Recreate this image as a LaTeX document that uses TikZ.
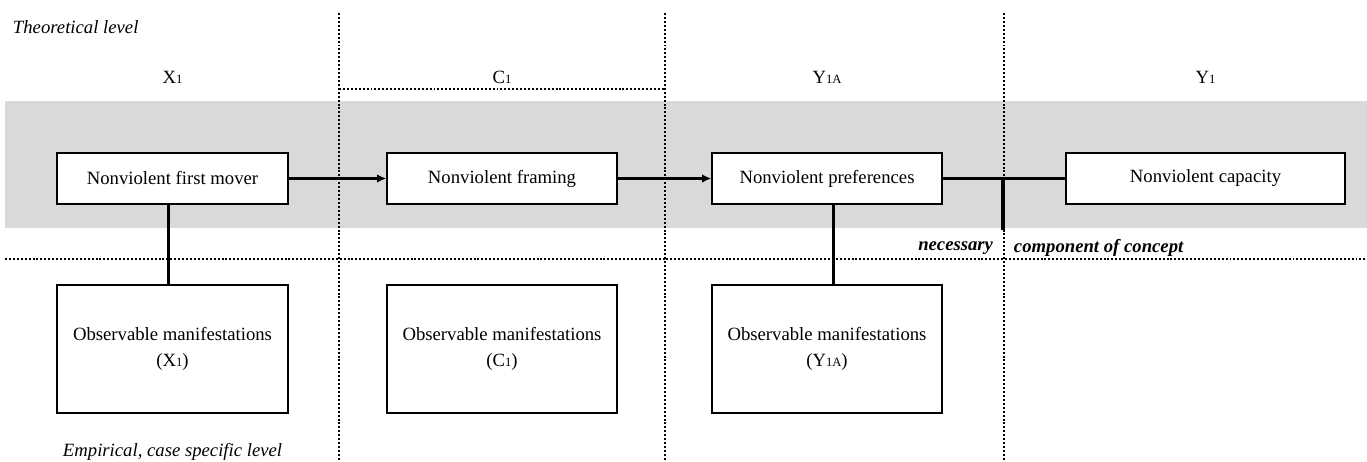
\documentclass[tikz,border=0pt]{standalone}
\usepackage{fontspec}
\setmainfont{Liberation Serif}
\usetikzlibrary{arrows.meta}
\newcommand{\lowidx}[1]{{\fontsize{9}{10}\selectfont #1}}
\begin{document}
\begin{tikzpicture}[x=0.025cm,y=-0.025cm,
  every node/.style={font=\fontsize{13.3}{16}\selectfont},
  concept/.style={draw, fill=white, line width=1pt, minimum height=51*0.025cm, inner sep=0pt},
  evidence/.style={draw, fill=white, line width=1pt, minimum height=128*0.025cm, inner sep=0pt, align=center, font=\fontsize{13.3}{18.5}\selectfont},
  divider/.style={line width=0.9pt, dash pattern=on 1.4pt off 1.4pt},
  link/.style={line width=2pt},
  flow/.style={link, -{Latex[length=6.5pt,width=6pt]}},
  levelnote/.style={font=\fontsize{13.3}{16}\selectfont\itshape, anchor=west}]
\useasboundingbox (0,0) rectangle (1367,461);
% theoretical band
\fill[black!15] (5,101) rectangle (1367,228);
% column dividers
\draw[divider] (339,13) -- (339,461);
\draw[divider] (665,13) -- (665,461);
\draw[divider] (1004,13) -- (1004,461);
\draw[divider] (339,89) -- (665,89);
\draw[divider] (5,259) -- (1367,259);
% level notes
\node[levelnote] (theo) at (8,27) {Theoretical level};
\node[levelnote] (emp) at (58,452) {Empirical, case specific level};
% concept boxes
\node[concept, minimum width=231*0.025cm] (b1) at (172.5,178.5) {Nonviolent first mover};
\node[concept, minimum width=230*0.025cm] (b2) at (502,178.5) {Nonviolent framing};
\node[concept, minimum width=230*0.025cm] (b3) at (827,178.5) {Nonviolent preferences};
\node[concept, minimum width=279*0.025cm] (b4) at (1205.5,178.5) {Nonviolent capacity};
% column labels
\node (lx) at (172.5,77) {X\lowidx{1}};
\node (lc) at (502,77) {C\lowidx{1}};
\node (ly) at (827,77) {Y\lowidx{1A}};
\node (lyy) at (1205.5,77) {Y\lowidx{1}};
% observable manifestations
\node[evidence, minimum width=231*0.025cm] (o1) at (172.5,349) {Observable manifestations\\(X\lowidx{1})};
\node[evidence, minimum width=230*0.025cm] (o2) at (502,349) {Observable manifestations\\(C\lowidx{1})};
\node[evidence, minimum width=230*0.025cm] (o3) at (827,349) {Observable manifestations\\(Y\lowidx{1A})};
% causal chain
\draw[flow] (b1) -- (b2);
\draw[flow] (b2) -- (b3);
\draw[link] (b3) -- (b4);
\coordinate (tfoot) at (1003,230);
\draw[line width=3.2pt] (b3.east -| tfoot) -- (tfoot);
% links to the empirical level
\draw[link] ([xshift=-0.11cm]b1.south) -- ([xshift=-0.11cm]o1.north);
\draw[link] ([xshift=0.17cm]b3.south) -- ([xshift=0.17cm]o3.north);
% concept note
\node[anchor=east, font=\fontsize{13.3}{16}\selectfont\bfseries\itshape] (nec) at (998,248) {necessary};
\node[anchor=west, font=\fontsize{13.3}{16}\selectfont\bfseries\itshape] (comp) at (1009,248) {component of concept};
\end{tikzpicture}
\end{document}
